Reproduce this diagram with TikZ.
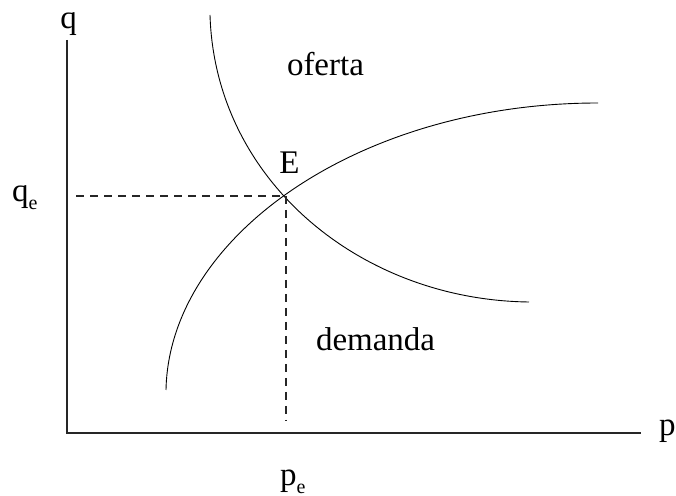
\documentclass[tikz,border=0pt]{standalone}
\usepackage{fontspec}
\setmainfont{Liberation Serif}
\newcommand\lowidx[1]{\raisebox{-0.22em}{\fontsize{10pt}{10pt}\selectfont #1}}
\begin{document}
\begin{tikzpicture}[x=0.5pt,y=-0.5pt,
  lbl/.style={inner sep=0pt,outer sep=0pt,font=\fontsize{16.5pt}{18pt}\selectfont},
  axisline/.style={line width=0.55pt,draw=black!85},
  curveline/.style={line width=0.45pt,draw=black},
  guide/.style={line width=0.6pt,draw=black!85,dash pattern=on 4pt off 3pt}]
\useasboundingbox (0,0) rectangle (676,496);
% axes
\coordinate (O) at (67,433);
\coordinate (ytop) at (67,40);
\coordinate (xend) at (641,433);
\draw[axisline] (ytop) -- (O) -- (xend);
% curves
\coordinate (s0) at (210,15);
\coordinate (s1) at (529,302);
\coordinate (d0) at (166,390);
\coordinate (d1) at (598,103);
\draw[curveline] (s0) .. controls (215,180) and (360,300) .. (s1);
\draw[curveline] (d0) .. controls (169,236) and (360,103) .. (d1);
% equilibrium guides
\coordinate (eq) at (282,196);
\coordinate (qa) at (76,196);
\coordinate (pv) at (286,196);
\coordinate (pb) at (286,421);
\draw[guide] (qa) -- (eq);
\draw[guide] (pv) -- (pb);
% labels
\node[lbl,anchor=base] (q) at (68.5,29) {q};
\node[lbl,anchor=base west] (p) at (659,436) {p};
\node[lbl,anchor=base west] (qe) at (12,202) {q\lowidx{e}};
\node[lbl,anchor=base west] (pe) at (280,486) {p\lowidx{e}};
\node[lbl,anchor=base] (E) at (289.5,174) {E};
\node[lbl,anchor=base west] (of) at (287,76) {oferta};
\node[lbl,anchor=base west] (de) at (316,351) {demanda};
\end{tikzpicture}
\end{document}
